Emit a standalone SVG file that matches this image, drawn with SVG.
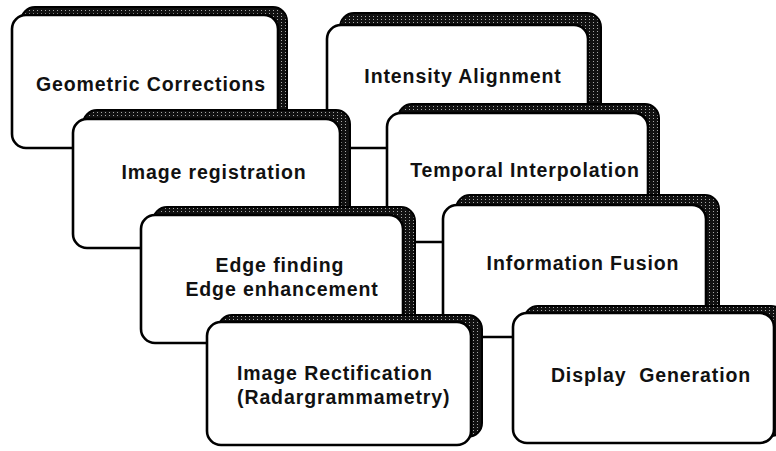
<svg xmlns="http://www.w3.org/2000/svg" width="776" height="451" viewBox="0 0 776 451">
<defs>
<pattern id="dots" width="4" height="3" patternUnits="userSpaceOnUse">
<rect width="4" height="3" fill="#111"/>
<rect x="1" y="1" width="1" height="1" fill="#a8a8a8"/>
</pattern>
<style>
.shadow{fill:url(#dots);stroke:#000;stroke-width:2}
.box{fill:#fff;stroke:#000;stroke-width:2.6}
.lbl{font-family:"Liberation Sans",Arial,sans-serif;font-weight:bold;font-size:19.5px;letter-spacing:0.9px;fill:#111;text-anchor:middle}
.lft{text-anchor:start}
</style>
</defs>
<rect width="776" height="451" fill="#fff"/>
<g id="connectors"/>
<g id="n1">
<rect class="shadow" x="21" y="7" width="266" height="133" rx="14"/>
<rect class="box" x="12" y="15" width="266" height="133" rx="14"/>
<text class="lbl" x="151" y="91">Geometric Corrections</text>
</g>
<g id="n2">
<rect class="shadow" x="340" y="13" width="261" height="123" rx="14"/>
<rect class="box" x="327" y="25" width="261" height="123" rx="14"/>
<text class="lbl" x="463" y="83">Intensity Alignment</text>
</g>
<g id="n3">
<rect class="shadow" x="83" y="110" width="267" height="129" rx="14"/>
<rect class="box" x="73" y="119" width="267" height="129" rx="14"/>
<text class="lbl" x="214" y="179">Image registration</text>
</g>
<g id="n4">
<rect class="shadow" x="398" y="104" width="261" height="129" rx="14"/>
<rect class="box" x="387" y="113" width="261" height="129" rx="14"/>
<text class="lbl" x="525" y="177">Temporal Interpolation</text>
</g>
<g id="n5">
<rect class="shadow" x="153" y="207" width="262" height="128" rx="14"/>
<rect class="box" x="141" y="215" width="262" height="128" rx="14"/>
<text class="lbl" x="280" y="272">Edge finding</text>
<text class="lbl" x="282" y="296">Edge enhancement</text>
</g>
<g id="n6">
<rect class="shadow" x="456" y="195" width="263" height="132" rx="14"/>
<rect class="box" x="443" y="205" width="263" height="132" rx="14"/>
<text class="lbl" x="583" y="270">Information Fusion</text>
</g>
<g id="n7">
<rect class="shadow" x="218" y="315" width="264" height="122" rx="14"/>
<rect class="box" x="207" y="322" width="264" height="123" rx="14"/>
<text class="lbl lft" x="237" y="380">Image Rectification</text>
<text class="lbl lft" x="237" y="404">(Radargrammametry)</text>
</g>
<g id="n8">
<rect class="shadow" x="524" y="306" width="261" height="130" rx="14"/>
<rect class="box" x="513" y="313" width="261" height="130" rx="14"/>
<text class="lbl" x="651" y="382">Display&#160; Generation</text>
</g>
</svg>
